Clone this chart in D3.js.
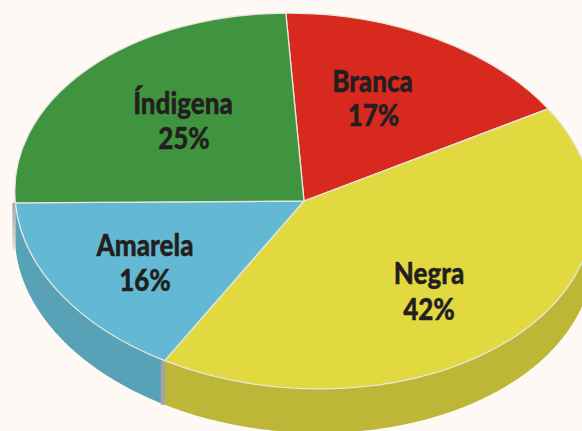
<!DOCTYPE html>
<html>
<head>
<meta charset="utf-8">
<script src="https://cdn.jsdelivr.net/npm/d3@7"></script>
<style>
  html, body { margin: 0; padding: 0; background: #fff9f5; }
  svg { display: block; }
  text { font-family: Lato, "Liberation Sans", sans-serif; font-weight: 900; fill: #231f20; stroke: #231f20; stroke-width: 0.4px; text-anchor: middle; }
</style>
</head>
<body>
<div id="chart"></div>
<script>
const categories = ['Branca', 'Negra', 'Amarela', 'Índigena']
const percents = [17, 42, 16, 25]
const topColors = ['#d8291f', '#e2d840', '#63b9d3', '#41943f']
const sideColors = ['#a81f18', '#bdb637', '#58a2b8', '#a3a4a8']
// faint joins visible on the yellow wall, as angles round the pie
const seamDegrees = [197.5, 189.9, 176.5, 169.2, 160.5, 145.7, 129.8, 116]

const width = 582
const height = 431
const cx = 304
const cy = 201
const rx = 289.5
const ry = 187.5
const tiltDeg = 3.4   // the ellipse leans a little, left side up
const depth = 44
const startDeg = -5.8

const rad = d => d * Math.PI / 180
const cosT = Math.cos(rad(tiltDeg))
const sinT = Math.sin(rad(tiltDeg))
const px = a => rx * Math.sin(a) * cosT + ry * Math.cos(a) * sinT
const py = a => rx * Math.sin(a) * sinT - ry * Math.cos(a) * cosT

// angle where the tilted ellipse turns back, the wall runs between these two
const turn = Math.atan2(rx * cosT, ry * sinT)

let svg = d3.select('#chart').append('svg')
  .attr('width', width)
  .attr('height', height)

let defs = svg.append('defs')
let fade = defs.append('linearGradient')
  .attr('id', 'sliver')
  .attr('x1', 0).attr('x2', 0).attr('y1', 0).attr('y2', 1)
fade.append('stop').attr('offset', 0).attr('stop-color', '#a3a4a8')
fade.append('stop').attr('offset', 1).attr('stop-color', '#e4e2df')

let g = svg.append('g')
  .attr('transform', `translate(${cx},${cy})`)

let pie = d3.pie()
  .sort(null)
  .startAngle(rad(startDeg))
  .endAngle(rad(startDeg + 360))

let slices = pie(percents)

// side wall, only the part of each slice facing front
let wall = d3.area()
  .x(a => px(a))
  .y0(a => py(a))
  .y1(a => py(a) + depth)

slices.forEach((s, i) => {
  let a0 = Math.max(s.startAngle, turn)
  let a1 = Math.min(s.endAngle, turn + Math.PI)
  if (a1 <= a0) return
  g.append('path')
    .attr('d', wall(d3.range(a0, a1, 0.01).concat([a1])))
    .attr('fill', sideColors[i])
})

g.selectAll('.seam')
  .data(seamDegrees)
  .enter().append('line')
  .attr('class', 'seam')
  .attr('x1', d => px(rad(d)))
  .attr('x2', d => px(rad(d)))
  .attr('y1', d => py(rad(d)))
  .attr('y2', d => py(rad(d)) + depth)
  .attr('stroke', '#b9b236')
  .attr('stroke-width', 0.5)

// grey cut edge between blue and yellow walls
let negra = slices[1]
g.append('line')
  .attr('x1', px(negra.endAngle) - 2)
  .attr('x2', px(negra.endAngle) - 2)
  .attr('y1', py(negra.endAngle))
  .attr('y2', py(negra.endAngle) + depth)
  .attr('stroke', '#a3a4a8')
  .attr('stroke-width', 4)

// grey sliver at the far left of the wall
let amarela = slices[2]
g.append('rect')
  .attr('x', px(amarela.endAngle) - 3)
  .attr('y', py(amarela.endAngle))
  .attr('width', 3)
  .attr('height', depth + 3)
  .attr('fill', 'url(#sliver)')

// top face, an arc of radius rx squashed to an ellipse and tilted
let arc = d3.arc().innerRadius(0).outerRadius(rx)

g.append('g')
  .attr('transform', `rotate(${tiltDeg}) scale(1,${ry / rx})`)
  .selectAll('path')
  .data(slices)
  .enter().append('path')
  .attr('d', arc)
  .attr('fill', (d, i) => topColors[i])
  .attr('stroke', '#e6e6dc')
  .attr('stroke-width', 1.3)
  .attr('vector-effect', 'non-scaling-stroke')

// labels sit where the picture has them, squeezed to the condensed look of the original
const labelX = [372.5, 429, 145, 183]
const labelY = [92, 284, 256, 114]
const percentX = [373.5, 429, 145, 184]
const percentY = [126, 320, 291, 149]
const squeeze = 0.84
let labels = svg.append('g')

function addLabel(x, y, str) {
  labels.append('text')
    .attr('transform', `translate(${x},${y}) scale(${squeeze},1)`)
    .attr('font-size', 31)
    .text(str)
}

categories.forEach((c, i) => {
  addLabel(labelX[i], labelY[i], c)
  addLabel(percentX[i], percentY[i], percents[i] + '%')
})
</script>
</body>
</html>
